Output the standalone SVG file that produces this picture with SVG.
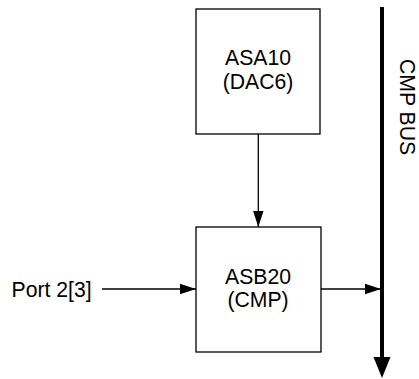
<svg xmlns="http://www.w3.org/2000/svg" width="419" height="379" viewBox="0 0 419 379">
<style>
.box{fill:#fff;stroke:#000;stroke-width:1.3}
.lbl{font-family:"Liberation Sans",Arial,sans-serif;font-size:21.2px;fill:#000}
.wire{stroke:#000;stroke-width:1.3;fill:none}
</style>
<defs>
<marker id="ah" markerUnits="userSpaceOnUse" markerWidth="16" markerHeight="12" refX="16" refY="6" orient="auto">
<path d="M0,0.8 L16,6 L0,11.2 Z" fill="#000"/>
</marker>
</defs>
<rect width="419" height="379" fill="#fff"/>
<g id="bus">
<line x1="382" y1="7" x2="382" y2="358" stroke="#000" stroke-width="4"/>
<polygon points="373.5,357 390.5,357 382,378" fill="#000"/>
<text class="lbl" transform="translate(400,59) rotate(90)">CMP BUS</text>
</g>
<g id="asa10">
<rect class="box" x="196" y="9" width="124" height="125"/>
<text class="lbl" x="258" y="65" text-anchor="middle">ASA10</text>
<text class="lbl" x="258" y="89" text-anchor="middle">(DAC6)</text>
</g>
<g id="asb20">
<rect class="box" x="196" y="227" width="125" height="125"/>
<text class="lbl" x="258" y="283.5" text-anchor="middle">ASB20</text>
<text class="lbl" x="258" y="307" text-anchor="middle">(CMP)</text>
</g>
<g id="port">
<text class="lbl" x="11.5" y="296.5">Port 2[3]</text>
</g>
<g id="connectors">
<line class="wire" x1="258.3" y1="134" x2="258.3" y2="227" marker-end="url(#ah)"/>
<line class="wire" x1="102" y1="289" x2="196" y2="289" marker-end="url(#ah)"/>
<line class="wire" x1="321" y1="289" x2="381" y2="289" marker-end="url(#ah)"/>
</g>
</svg>
